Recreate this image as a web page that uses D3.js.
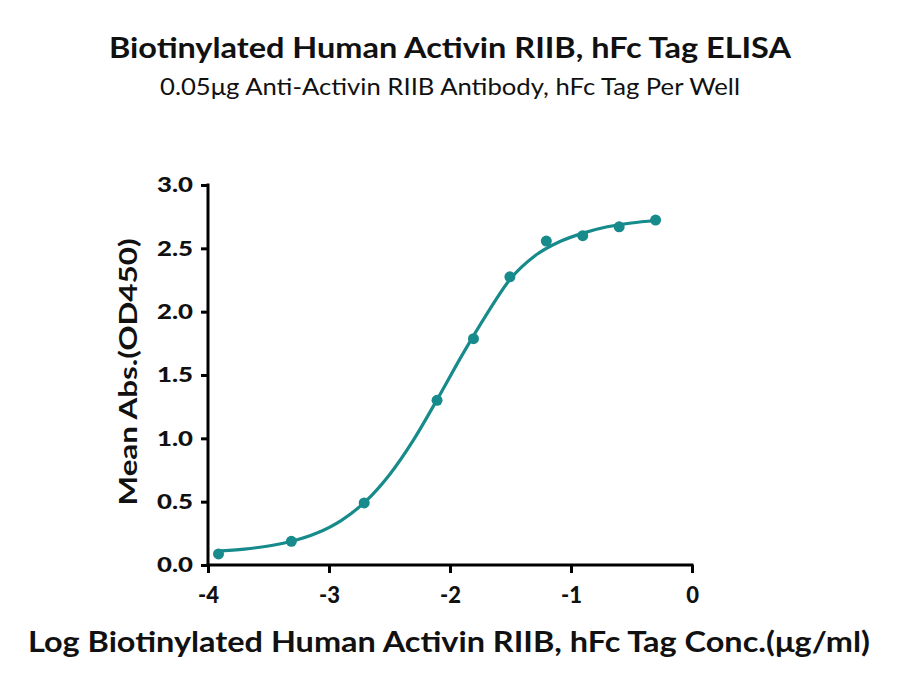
<!DOCTYPE html>
<html>
<head>
<meta charset="utf-8">
<script src="https://cdn.jsdelivr.net/npm/d3@7"></script>
<style>
    body { margin: 0; background: #fff; }
    text { font-family: Lato, "Open Sans", sans-serif; fill: #111; }
    .title { font-weight: 700; font-size: 28px; }
    .subtitle { font-weight: 400; font-size: 23px; }
    .axis-title { font-weight: 700; font-size: 28px; }
    .tick text { font-weight: 900; font-size: 21px; }
</style>
</head>
<body>
<div id="chart"></div>
<script>
// measured points: log10 concentration (ug/ml) and mean absorbance
const logConc = [-3.913, -3.311, -2.709, -2.107, -1.806, -1.505, -1.204, -0.903, -0.602, -0.301];
const meanAbs = [0.087, 0.187, 0.49, 1.30, 1.787, 2.275, 2.557, 2.60, 2.67, 2.723];

// fitted curve
const fitX = [-3.93, -3.7, -3.5, -3.3, -3.1, -2.9, -2.7, -2.5, -2.3, -2.1, -1.9, -1.7, -1.5, -1.3, -1.1, -0.9, -0.7, -0.5, -0.3];
const fitY = [0.110, 0.126, 0.150, 0.189, 0.252, 0.351, 0.500, 0.713, 0.990, 1.317, 1.657, 1.975, 2.26, 2.44, 2.55, 2.62, 2.67, 2.70, 2.72];

const xTicks = [-4, -3, -2, -1, 0];
const yTicks = [0, 0.5, 1.0, 1.5, 2.0, 2.5, 3.0];

const width = 900;
const height = 690;
const plotLeft = 208;
const plotRight = 692;
const plotTop = 185;
const plotBottom = 565;
const teal = "#178a8b";

const svg = d3.select("#chart").append("svg")
    .attr("width", width)
    .attr("height", height);

const xScale = d3.scaleLinear().domain([-4, 0]).range([plotLeft, plotRight]);
const yScale = d3.scaleLinear().domain([0, 3]).range([plotBottom, plotTop]);

// squeeze text to the width it has in the reference
function fitText(sel, w) {
    sel.attr("textLength", w).attr("lengthAdjust", "spacingAndGlyphs");
}

// titles
svg.append("text").attr("class", "title")
    .attr("x", 450).attr("y", 58).attr("text-anchor", "middle")
    .text("Biotinylated Human Activin RIIB, hFc Tag ELISA")
    .call(fitText, 682);
svg.append("text").attr("class", "subtitle")
    .attr("x", 450).attr("y", 95).attr("text-anchor", "middle")
    .text("0.05\u03bcg Anti-Activin RIIB Antibody, hFc Tag Per Well")
    .call(fitText, 580);

// axes
const xAxis = svg.append("g")
    .attr("transform", `translate(0, ${plotBottom})`)
    .call(d3.axisBottom(xScale).tickValues(xTicks).tickSize(8).tickPadding(14)
        .tickFormat(function (d) { return d < 0 ? "-" + Math.abs(d) : String(d); }));
const yAxis = svg.append("g")
    .attr("transform", `translate(${plotLeft}, 0)`)
    .call(d3.axisLeft(yScale).tickValues(yTicks).tickSize(7).tickPadding(8).tickFormat(d3.format(".1f")));

[xAxis, yAxis].forEach(function (g) {
    g.select(".domain").remove();
    g.selectAll(".tick line").attr("stroke", "#000").attr("stroke-width", 3);
    g.selectAll(".tick text").attr("fill", "#111");
});
yAxis.selectAll(".tick text").call(fitText, 36);
xAxis.selectAll(".tick text").style("font-size", "22px");

svg.append("line")
    .attr("x1", xScale(-4) - 1.5).attr("x2", xScale(0) + 1.5)
    .attr("y1", yScale(0)).attr("y2", yScale(0))
    .attr("stroke", "#000").attr("stroke-width", 3);
svg.append("line")
    .attr("x1", xScale(-4)).attr("x2", xScale(-4))
    .attr("y1", yScale(3) - 1.5).attr("y2", yScale(0))
    .attr("stroke", "#000").attr("stroke-width", 3);

// axis titles
svg.append("text").attr("class", "axis-title")
    .attr("x", 449).attr("y", 652).attr("text-anchor", "middle")
    .text("Log Biotinylated Human Activin RIIB, hFc Tag Conc.(\u03bcg/ml)")
    .call(fitText, 842);
svg.append("text").attr("class", "axis-title")
    .attr("transform", `translate(137, 372) rotate(-90)`)
    .attr("text-anchor", "middle")
    .style("font-size", "25px")
    .text("Mean Abs.(OD450)")
    .call(fitText, 267);

// fitted curve
const fitData = fitX.map(function (x, i) { return [x, fitY[i]]; });
svg.append("path")
    .datum(fitData)
    .attr("fill", "none")
    .attr("stroke", teal)
    .attr("stroke-width", 3.2)
    .attr("d", d3.line()
        .x(function (d) { return xScale(d[0]); })
        .y(function (d) { return yScale(d[1]); })
        .curve(d3.curveMonotoneX));

// points
svg.selectAll(".pt")
    .data(logConc.map(function (x, i) { return [x, meanAbs[i]]; }))
    .join("circle")
    .attr("class", "pt")
    .attr("cx", function (d) { return xScale(d[0]); })
    .attr("cy", function (d) { return yScale(d[1]); })
    .attr("r", 5.5)
    .attr("fill", teal);
</script>
</body>
</html>
